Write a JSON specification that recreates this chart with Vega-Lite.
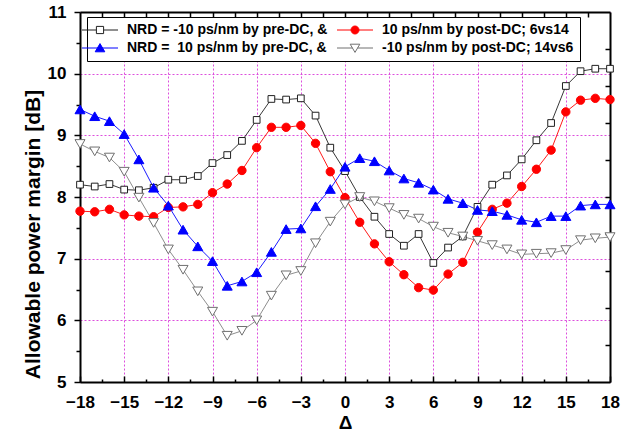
{
"$schema": "https://vega.github.io/schema/vega-lite/v6.json",
"width": 530, "height": 370,
"autosize": {"type": "none"},
"padding": {"left": 80, "top": 12, "right": 24, "bottom": 58},
"config": {"view": {"stroke": null}, "font": "Liberation Sans",
  "axis": {"labelFont": "Liberation Sans", "titleFont": "Liberation Sans", "labelFontWeight": "bold", "titleFontWeight": "bold", "labelColor": "black", "titleColor": "black", "tickColor": "black", "domainColor": "black"}},
"datasets": {"d": [
{"s":"sq","x":-18,"y":8.20},{"s":"sq","x":-17,"y":8.17},{"s":"sq","x":-16,"y":8.21},{"s":"sq","x":-15,"y":8.12},{"s":"sq","x":-14,"y":8.11},{"s":"sq","x":-13,"y":8.15},{"s":"sq","x":-12,"y":8.28},{"s":"sq","x":-11,"y":8.28},{"s":"sq","x":-10,"y":8.34},{"s":"sq","x":-9,"y":8.55},{"s":"sq","x":-8,"y":8.68},{"s":"sq","x":-7,"y":8.91},{"s":"sq","x":-6,"y":9.25},{"s":"sq","x":-5,"y":9.59},{"s":"sq","x":-4,"y":9.58},{"s":"sq","x":-3,"y":9.60},{"s":"sq","x":-2,"y":9.32},{"s":"sq","x":-1,"y":8.80},{"s":"sq","x":0,"y":8.42},{"s":"sq","x":1,"y":8.00},{"s":"sq","x":2,"y":7.68},{"s":"sq","x":3,"y":7.40},{"s":"sq","x":4,"y":7.21},{"s":"sq","x":5,"y":7.40},{"s":"sq","x":6,"y":6.93},{"s":"sq","x":7,"y":7.18},{"s":"sq","x":8,"y":7.36},{"s":"sq","x":9,"y":7.84},{"s":"sq","x":10,"y":8.20},{"s":"sq","x":11,"y":8.35},{"s":"sq","x":12,"y":8.61},{"s":"sq","x":13,"y":8.92},{"s":"sq","x":14,"y":9.20},{"s":"sq","x":15,"y":9.80},{"s":"sq","x":16,"y":10.04},{"s":"sq","x":17,"y":10.08},{"s":"sq","x":18,"y":10.08},
{"s":"ci","x":-18,"y":7.77},{"s":"ci","x":-17,"y":7.76},{"s":"ci","x":-16,"y":7.80},{"s":"ci","x":-15,"y":7.71},{"s":"ci","x":-14,"y":7.69},{"s":"ci","x":-13,"y":7.68},{"s":"ci","x":-12,"y":7.83},{"s":"ci","x":-11,"y":7.84},{"s":"ci","x":-10,"y":7.88},{"s":"ci","x":-9,"y":8.07},{"s":"ci","x":-8,"y":8.21},{"s":"ci","x":-7,"y":8.43},{"s":"ci","x":-6,"y":8.80},{"s":"ci","x":-5,"y":9.13},{"s":"ci","x":-4,"y":9.13},{"s":"ci","x":-3,"y":9.16},{"s":"ci","x":-2,"y":8.87},{"s":"ci","x":-1,"y":8.41},{"s":"ci","x":0,"y":7.99},{"s":"ci","x":1,"y":7.59},{"s":"ci","x":2,"y":7.24},{"s":"ci","x":3,"y":6.95},{"s":"ci","x":4,"y":6.74},{"s":"ci","x":5,"y":6.53},{"s":"ci","x":6,"y":6.49},{"s":"ci","x":7,"y":6.75},{"s":"ci","x":8,"y":6.94},{"s":"ci","x":9,"y":7.43},{"s":"ci","x":10,"y":7.80},{"s":"ci","x":11,"y":7.90},{"s":"ci","x":12,"y":8.17},{"s":"ci","x":13,"y":8.45},{"s":"ci","x":14,"y":8.76},{"s":"ci","x":15,"y":9.38},{"s":"ci","x":16,"y":9.57},{"s":"ci","x":17,"y":9.60},{"s":"ci","x":18,"y":9.58},
{"s":"tu","x":-18,"y":9.42},{"s":"tu","x":-17,"y":9.31},{"s":"tu","x":-16,"y":9.23},{"s":"tu","x":-15,"y":9.02},{"s":"tu","x":-14,"y":8.61},{"s":"tu","x":-13,"y":8.15},{"s":"tu","x":-12,"y":7.86},{"s":"tu","x":-11,"y":7.47},{"s":"tu","x":-10,"y":7.20},{"s":"tu","x":-9,"y":6.96},{"s":"tu","x":-8,"y":6.56},{"s":"tu","x":-7,"y":6.63},{"s":"tu","x":-6,"y":6.78},{"s":"tu","x":-5,"y":7.11},{"s":"tu","x":-4,"y":7.48},{"s":"tu","x":-3,"y":7.49},{"s":"tu","x":-2,"y":7.85},{"s":"tu","x":-1,"y":8.13},{"s":"tu","x":0,"y":8.49},{"s":"tu","x":1,"y":8.63},{"s":"tu","x":2,"y":8.58},{"s":"tu","x":3,"y":8.43},{"s":"tu","x":4,"y":8.30},{"s":"tu","x":5,"y":8.23},{"s":"tu","x":6,"y":8.12},{"s":"tu","x":7,"y":7.97},{"s":"tu","x":8,"y":7.90},{"s":"tu","x":9,"y":7.79},{"s":"tu","x":10,"y":7.77},{"s":"tu","x":11,"y":7.71},{"s":"tu","x":12,"y":7.63},{"s":"tu","x":13,"y":7.59},{"s":"tu","x":14,"y":7.69},{"s":"tu","x":15,"y":7.69},{"s":"tu","x":16,"y":7.86},{"s":"tu","x":17,"y":7.88},{"s":"tu","x":18,"y":7.88},
{"s":"td","x":-18,"y":8.86},{"s":"td","x":-17,"y":8.74},{"s":"td","x":-16,"y":8.64},{"s":"td","x":-15,"y":8.41},{"s":"td","x":-14,"y":7.99},{"s":"td","x":-13,"y":7.58},{"s":"td","x":-12,"y":7.15},{"s":"td","x":-11,"y":6.82},{"s":"td","x":-10,"y":6.47},{"s":"td","x":-9,"y":6.14},{"s":"td","x":-8,"y":5.75},{"s":"td","x":-7,"y":5.83},{"s":"td","x":-6,"y":6.00},{"s":"td","x":-5,"y":6.40},{"s":"td","x":-4,"y":6.73},{"s":"td","x":-3,"y":6.80},{"s":"td","x":-2,"y":7.25},{"s":"td","x":-1,"y":7.60},{"s":"td","x":0,"y":7.88},{"s":"td","x":1,"y":8.00},{"s":"td","x":2,"y":7.93},{"s":"td","x":3,"y":7.82},{"s":"td","x":4,"y":7.71},{"s":"td","x":5,"y":7.65},{"s":"td","x":6,"y":7.52},{"s":"td","x":7,"y":7.42},{"s":"td","x":8,"y":7.36},{"s":"td","x":9,"y":7.29},{"s":"td","x":10,"y":7.22},{"s":"td","x":11,"y":7.15},{"s":"td","x":12,"y":7.07},{"s":"td","x":13,"y":7.08},{"s":"td","x":14,"y":7.09},{"s":"td","x":15,"y":7.14},{"s":"td","x":16,"y":7.30},{"s":"td","x":17,"y":7.33},{"s":"td","x":18,"y":7.35}
]},
"data": {"name": "d"},
"resolve": {"axis": {"x": "independent", "y": "independent"}, "scale": {"shape": "independent", "stroke": "independent", "fill": "independent"}},
"layer": [
{"mark": {"type": "line", "strokeWidth": 0.9},
 "encoding": {
  "x": {"field": "x", "type": "quantitative", "scale": {"domain": [-18, 18], "nice": false, "zero": false},
        "axis": {"orient": "bottom", "title": "Δ", "values": [-18,-15,-12,-9,-6,-3,0,3,6,9,12,15,18], "format": "d", "labelFontSize": 17, "titleFontSize": 19, "titlePadding": 3, "tickSize": -6, "tickWidth": 1.5, "labelPadding": 18, "domainWidth": 2, "grid": true, "gridColor": "#dd4edd", "gridDash": [2, 2], "gridWidth": 1, "labelFlush": false}},
  "y": {"field": "y", "type": "quantitative", "scale": {"domain": [5, 11], "nice": false, "zero": false},
        "axis": {"orient": "left", "title": "Allowable power margin [dB]", "values": [5,6,7,8,9,10,11], "format": "d", "labelFontSize": 17, "titleFontSize": 21, "titlePadding": 4, "titleY": 222, "tickSize": 6, "tickWidth": 1.5, "labelPadding": 8, "domainWidth": 2, "grid": true, "gridColor": "#dd4edd", "gridDash": [2, 2], "gridWidth": 1}},
  "stroke": {"field": "s", "type": "nominal", "scale": {"domain": ["sq","ci","tu","td"], "range": ["#202020", "#ff0000", "#0000ff", "#808080"]}, "legend": null}
 }},
{"mark": {"type": "point", "opacity": 1, "strokeWidth": 1},
 "encoding": {
  "x": {"field": "x", "type": "quantitative", "axis": null},
  "y": {"field": "y", "type": "quantitative", "axis": null},
  "shape": {"field": "s", "type": "nominal", "scale": {"domain": ["sq","ci","tu","td"], "range": ["square", "circle", "triangle-up", "triangle-down"]}, "legend": null},
  "stroke": {"field": "s", "type": "nominal", "scale": {"domain": ["sq","ci","tu","td"], "range": ["#202020", "#ff0000", "#0000ff", "#707070"]}, "legend": null},
  "fill": {"field": "s", "type": "nominal", "scale": {"domain": ["sq","ci","tu","td"], "range": ["#ffffff", "#ff0000", "#0000ff", "#ffffff"]}, "legend": null},
  "size": {"condition": [{"test": "datum.s === 'ci'", "value": 70}, {"test": "datum.s === 'tu' || datum.s === 'td'", "value": 100}], "value": 45}
 }},
{"mark": {"type": "point", "opacity": 0},
 "encoding": {
  "x": {"field": "x", "type": "quantitative", "axis": {"orient": "bottom", "title": null, "labels": false, "domain": false, "grid": false, "values": [-16.5,-13.5,-10.5,-7.5,-4.5,-1.5,1.5,4.5,7.5,10.5,13.5,16.5], "tickSize": -3, "tickWidth": 1.5}},
  "y": {"field": "y", "type": "quantitative", "axis": {"orient": "left", "title": null, "labels": false, "domain": false, "grid": false, "values": [5.5,6.5,7.5,8.5,9.5,10.5], "tickSize": 4, "tickWidth": 1.5}}
 }},
{"mark": {"type": "point", "opacity": 0},
 "encoding": {
  "x": {"field": "x", "type": "quantitative", "axis": {"orient": "top", "title": null, "labels": false, "domain": true, "domainWidth": 2, "grid": false, "values": [-16.5,-15,-13.5,-12,-10.5,-9,-7.5,-6,-4.5,-3,-1.5,0,1.5,3,4.5,6,7.5,9,10.5,12,13.5,15,16.5], "tickSize": -5, "tickWidth": 1.5}},
  "y": {"field": "y", "type": "quantitative", "axis": {"orient": "right", "title": null, "labels": false, "domain": true, "domainWidth": 2, "grid": false, "values": [5.6,6.2,6.8,7.4,8.0,8.6,9.2,9.8,10.4], "tickSize": -5, "tickWidth": 1.5}}
 }},
{"transform": [{"filter": "false"}],
 "mark": {"type": "point", "opacity": 1},
 "encoding": {
  "shape": {"field": "s", "type": "nominal", "scale": {"domain": ["sq","ci","tu","td"], "range": ["M-4.5,0H-0.9M0.9,0H4.5M-0.9,-0.9H0.9V0.9H-0.9Z", "M-4.5,0H4.5M1,0A1,1,0,1,1,-1,0A1,1,0,1,1,1,0Z", "M-4.5,0H4.5M0,-1.1L1.2,0.95H-1.2Z", "M-4.5,0H-0.64M0.64,0H4.5M0,1.1L1.2,-0.95H-1.2Z"]},
    "legend": {"title": null, "orient": "none", "legendX": 7, "legendY": 5, "columns": 2, "direction": "horizontal", "columnPadding": 7, "rowPadding": 4, "padding": 6, "strokeColor": "black", "fillColor": "white", "symbolSize": 64, "symbolStrokeWidth": 1, "labelFont": "Liberation Sans", "labelFontWeight": "bold", "labelFontSize": 14, "labelColor": "black", "labelOffset": 20, "labelLimit": 400,
      "labelExpr": "datum.label === 'sq' ? 'NRD = -10 ps/nm by pre-DC, &' : datum.label === 'ci' ? '10 ps/nm by post-DC; 6vs14' : datum.label === 'tu' ? 'NRD = \u00a010 ps/nm by pre-DC, &' : '-10 ps/nm by post-DC; 14vs6'"}},
  "stroke": {"field": "s", "type": "nominal", "scale": {"domain": ["sq","ci","tu","td"], "range": ["#202020", "#ff0000", "#0000ff", "#707070"]}},
  "fill": {"field": "s", "type": "nominal", "scale": {"domain": ["sq","ci","tu","td"], "range": ["#ffffff", "#ff0000", "#0000ff", "#ffffff"]}}
 }}
]
}
